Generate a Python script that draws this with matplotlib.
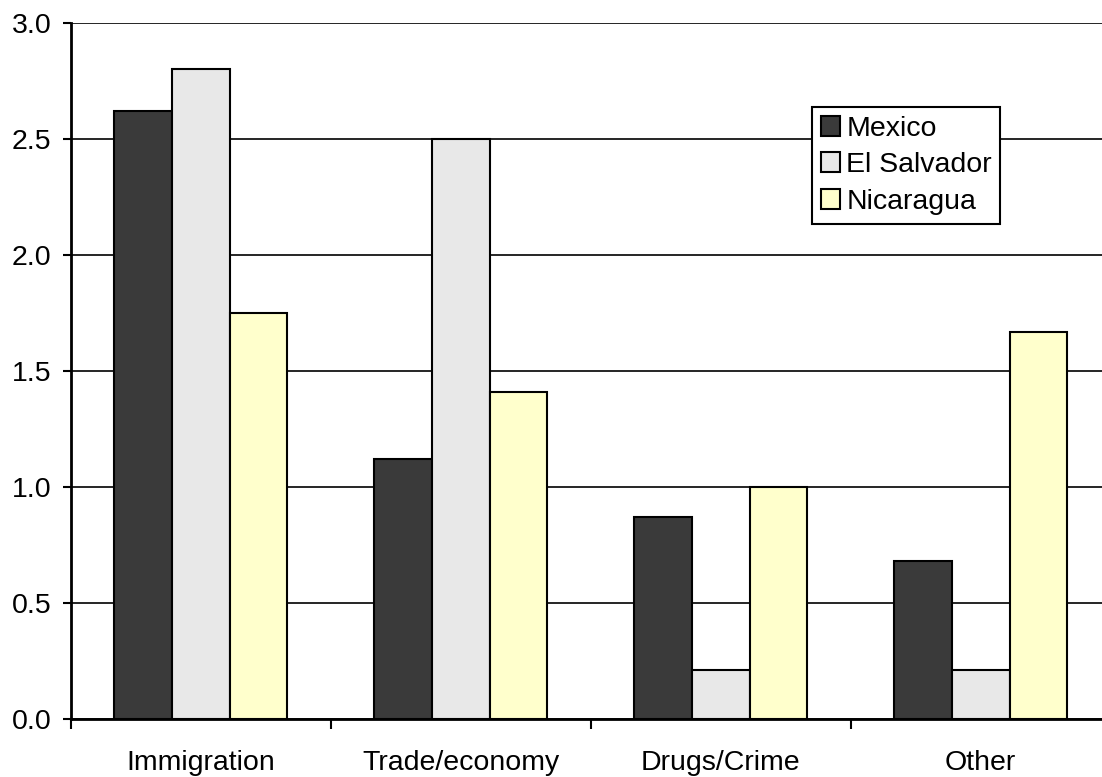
import matplotlib
matplotlib.use("Agg")
import matplotlib.pyplot as plt
import numpy as np

plt.rcParams['font.family'] = ['Liberation Sans', 'DejaVu Sans']

categories = ["Immigration", "Trade/economy", "Drugs/Crime", "Other"]
series_names = ["Mexico", "El Salvador", "Nicaragua"]
mexico = [2.62, 1.12, 0.87, 0.68]
el_salvador = [2.80, 2.50, 0.21, 0.21]
nicaragua = [1.75, 1.41, 1.00, 1.67]
yticks = [0.0, 0.5, 1.0, 1.5, 2.0, 2.5, 3.0]

colors = ["#3a3a3a", "#e8e8e8", "#ffffcc"]
FS = 20.5

fig = plt.figure(figsize=(11.02, 7.77), dpi=100)
ax = fig.add_axes([70.7 / 1102, 58 / 777, 1040 / 1102, 696 / 777])

n = len(categories)
x = np.arange(n)
bw = 1 / 4.5
for i, (vals, name, c) in enumerate(zip([mexico, el_salvador, nicaragua], series_names, colors)):
    ax.bar(x + (i - 1) * bw, vals, width=bw, color=c, edgecolor="black",
           linewidth=1.5, label=name, zorder=3)

ax.set_xlim(-0.5, n - 0.5)
ax.set_ylim(0, 3.0)
ax.set_yticks(yticks)
ax.set_yticklabels([f"{v:.1f}" for v in yticks])
ax.yaxis.grid(True, color="black", linewidth=1.2, zorder=0)
ax.set_axisbelow(True)

ax.set_xticks(np.arange(n + 1) - 0.5)
ax.set_xticklabels([])
ax.set_xticks(x, minor=True)
ax.set_xticklabels(categories, minor=True)
ax.tick_params(axis="x", which="major", length=7, width=1.5, direction="out")
ax.tick_params(axis="x", which="minor", length=0, pad=22, labelsize=FS)
ax.tick_params(axis="y", length=6, width=1.5, direction="out", pad=8, labelsize=FS)

for s in ["top", "right"]:
    ax.spines[s].set_visible(False)
for s in ["left", "bottom"]:
    ax.spines[s].set_linewidth(2)

leg = ax.legend(loc="upper left", bbox_to_anchor=(812 / 1102, 1 - 107 / 777),
                bbox_transform=fig.transFigure, borderaxespad=0, fontsize=FS,
                frameon=True, fancybox=False, shadow=False, framealpha=1,
                edgecolor="black", handlelength=0.7, handleheight=0.7,
                handletextpad=0.2, borderpad=0.3, labelspacing=0.38)
leg.get_frame().set_linewidth(1.5)

fig.savefig("out.png", dpi=100)
